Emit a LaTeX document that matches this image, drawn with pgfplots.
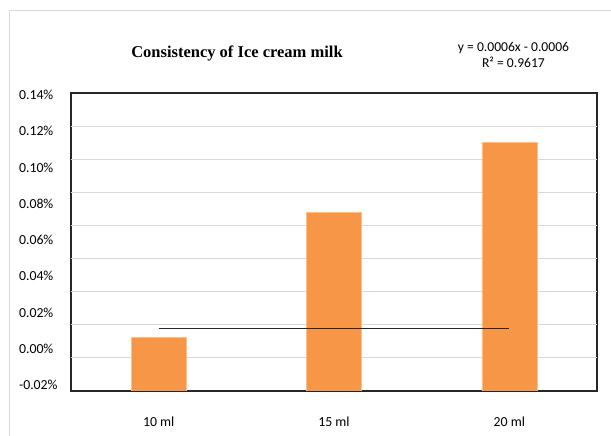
\documentclass[border=0pt]{standalone}
\usepackage{fontspec}
\setmainfont{Carlito}
\newfontfamily\titlefont{Liberation Serif}
\usepackage{pgfplots}
\pgfplotsset{compat=1.18}
\definecolor{barorange}{HTML}{F79646}
\definecolor{gridgray}{HTML}{D9D9D9}
\begin{document}
\begin{tikzpicture}[x=1pt,y=1pt]
\useasboundingbox (-71,-45) rectangle (540,391);
\draw[gridgray, line width=1pt] (-61,-70) -- (-61,380) -- (560,380);
\begin{axis}[
  scale only axis, width=526pt, height=298pt,
  xmin=-0.5, xmax=2.5,
  ymin=-0.0233, ymax=0.1411,
  y coord trafo/.code={\pgfmathparse{#1+0.0233}},
  y coord inv trafo/.code={\pgfmathparse{#1-0.0233}},
  axis line style={black!85, line width=1.2pt},
  major tick length=0pt,
  xtick={0,1,2}, xticklabels={10 ml,15 ml,20 ml},
  ytick={-0.02,0,0.02,0.04,0.06,0.08,0.10,0.12,0.14},
  yticklabels={-0.02\%,0.00\%,0.02\%,0.04\%,0.06\%,0.08\%,0.10\%,0.12\%,0.14\%},
  extra y ticks={-0.00505,0.01321,0.03147,0.04974,0.06805,0.08631,0.10457,0.12283},
  extra y tick labels={},
  extra y tick style={grid=major, major grid style={gridgray, line width=0.9pt}},
  tick label style={font=\fontsize{13.8}{16}\selectfont},
  yticklabel style={anchor=west, xshift=-55.5pt},
  xticklabel style={yshift=-22pt},
]
\addplot[ybar, bar width=55pt, fill=barorange, draw=barorange!60!white, line width=0.4pt]
  coordinates {(0,0.0063) (1,0.0751) (2,0.1137)};
\addplot[black!85, line width=0.9pt] coordinates {(0,0.0111) (2,0.0111)};
\end{axis}
\node[font=\titlefont\bfseries\fontsize{16.5}{18}\selectfont] at (166,338) {Consistency of Ice cream milk};
\node[font=\fontsize{13.6}{16}\selectfont, align=center] at (442.5,336) {y = 0.0006x - 0.0006\\R² = 0.9617};
\end{tikzpicture}
\end{document}
